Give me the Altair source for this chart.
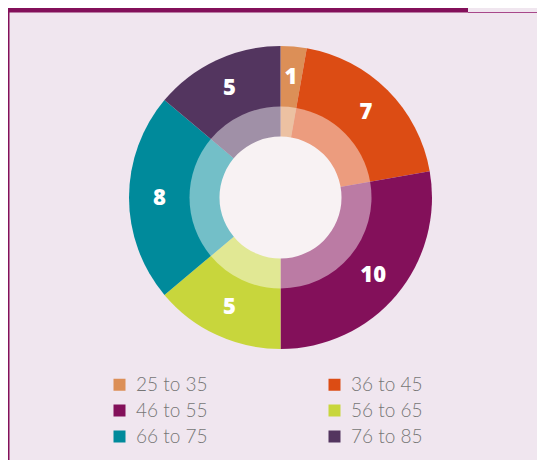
import altair as alt
import pandas as pd

categories = ["25 to 35", "36 to 45", "46 to 55", "56 to 65", "66 to 75", "76 to 85"]
values = [1, 7, 10, 5, 8, 5]
colors = ["#dc8f57", "#dc4c14", "#83105a", "#c8d63c", "#008a9b", "#53355f"]
legend_order = ["25 to 35", "46 to 55", "66 to 75", "36 to 45", "56 to 65", "76 to 85"]

df = pd.DataFrame({"cat": categories, "value": values, "idx": list(range(len(categories)))})
one = pd.DataFrame({"k": [0]})

CX, CY = 272.5, 189.5

theta = alt.Theta("value:Q", stack=True)
order = alt.Order("idx:Q")
color = alt.Color(
    "cat:N",
    scale=alt.Scale(domain=categories, range=colors),
    sort=categories,
    legend=alt.Legend(
        title=None,
        orient="none",
        legendX=102,
        legendY=367,
        columns=2,
        columnPadding=117,
        rowPadding=6,
        values=legend_order,
        symbolType="square",
        symbolSize=144,
        symbolStrokeWidth=0,
        labelFont="Lato",
        labelFontSize=19,
        labelFontWeight=300,
        labelColor="#767676",
        labelOffset=7,
        padding=0,
        labelLimit=200,
    ),
)

base = alt.Chart(df)

outer = base.mark_arc(radius=151.5, radius2=0).encode(
    theta=theta, order=order, color=color, x=alt.value(CX), y=alt.value(CY)
)

ring = base.mark_arc(radius=91, radius2=0, color="white", opacity=0.45).encode(
    theta=theta, order=order, x=alt.value(CX), y=alt.value(CY)
)

center = alt.Chart(one).mark_arc(radius=61, theta=0, theta2=6.2832, color="#f8f2f3").encode(
    x=alt.value(CX), y=alt.value(CY)
)

labels = base.mark_text(
    radius=121, font="Open Sans", fontSize=22, fontWeight=800, color="white",
    baseline="middle", align="center"
).encode(theta=theta, order=order, text="value:Q", x=alt.value(CX), y=alt.value(CY))

topbar = alt.Chart(one).mark_rule(color="#83105a", strokeWidth=4.5).encode(
    x=alt.value(0), x2=alt.value(460), y=alt.value(2.25)
)
topline = alt.Chart(one).mark_rule(color="#a8488a", strokeWidth=1).encode(
    x=alt.value(460), x2=alt.value(529), y=alt.value(4.5)
)
leftline = alt.Chart(one).mark_rule(color="#83105a", strokeWidth=1.5).encode(
    x=alt.value(0.75), y=alt.value(0), y2=alt.value(452)
)

chart = alt.layer(outer, ring, center, labels, topbar, topline, leftline).properties(
    width=529, height=452, autosize=alt.AutoSizeParams(type="none"), padding=0,
    background="#f0e6ef",
).configure_view(strokeWidth=0)

chart.save("out.html", embed_options={"renderer": "svg", "actions": False})
